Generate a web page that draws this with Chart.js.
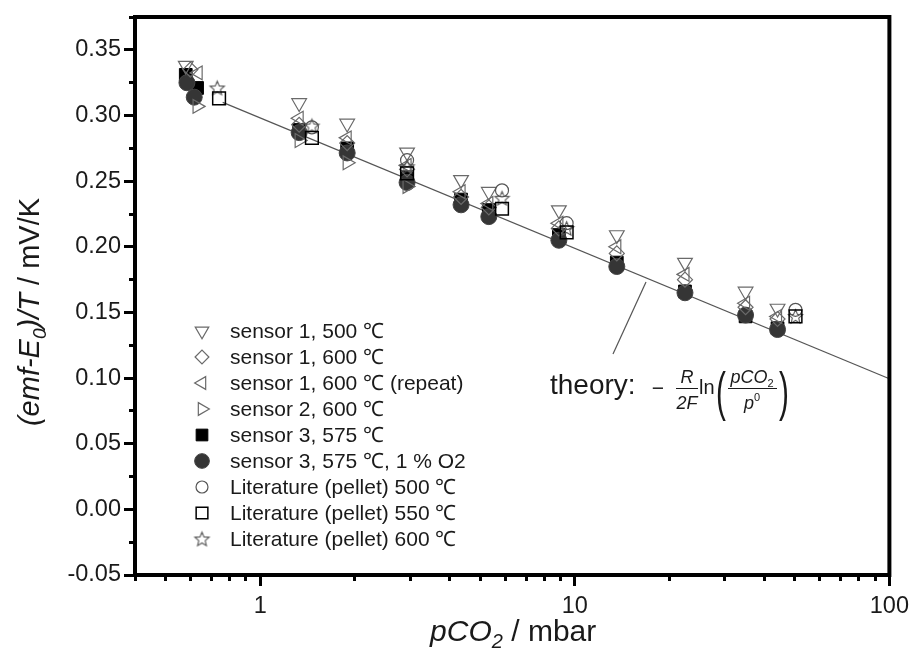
<!DOCTYPE html>
<html><head><meta charset="utf-8">
<script src="https://cdn.jsdelivr.net/npm/chart.js@4/dist/chart.umd.min.js"></script>
<style>html,body{margin:0;padding:0;background:#fff}canvas{display:block}</style>
</head><body>
<canvas id="c" width="915" height="655"></canvas>
<script>
const FONT = '"Liberation Sans", Arial, Helvetica, sans-serif';

// ---- data (pCO2 in mbar, (emf-E0)/T in mV/K) ----
const s1_500_p = [0.58, 1.33, 1.89, 2.93, 4.35, 5.33, 8.9, 13.6, 22.4, 34.9, 44.1];
const s1_500_v = [0.338, 0.3096, 0.294, 0.272, 0.251, 0.242, 0.228, 0.209, 0.188, 0.166, 0.153];
const s1_600_p = [0.60, 1.33, 1.89, 2.93, 4.35, 5.33, 8.9, 13.6, 22.4, 34.9, 44.1];
const s1_600_v = [0.335, 0.293, 0.279, 0.259, 0.238, 0.230, 0.214, 0.195, 0.175, 0.154, 0.145];
const s1_600r_p = [0.635, 1.33, 1.89, 2.93, 4.35, 5.33, 8.9, 13.6, 22.4, 34.9, 44.1];
const s1_600r_v = [0.3325, 0.298, 0.283, 0.262, 0.242, 0.233, 0.218, 0.200, 0.179, 0.157, 0.147];
const s2_600_p = [0.63, 1.33, 1.89, 2.93];
const s2_600_v = [0.307, 0.281, 0.264, 0.246];
const s3_575_p = [0.58, 0.63, 1.33, 1.89, 2.93, 4.35, 5.33, 8.9, 13.6, 22.4, 34.9, 44.1];
const s3_575_v = [0.331, 0.321, 0.289, 0.275, 0.253, 0.236, 0.228, 0.209, 0.188, 0.166, 0.147, 0.138];
const s3_o2_p = [0.585, 0.617, 1.33, 1.89, 2.93, 4.35, 5.33, 8.9, 13.6, 22.4, 34.9, 44.1];
const s3_o2_v = [0.325, 0.314, 0.287, 0.2715, 0.249, 0.232, 0.223, 0.205, 0.185, 0.165, 0.148, 0.137];
const lit500_p = [1.46, 2.93, 5.87, 9.42, 50.3];
const lit500_v = [0.291, 0.266, 0.243, 0.218, 0.152];
const lit550_p = [0.74, 1.46, 2.93, 5.87, 9.42, 50.3];
const lit550_v = [0.313, 0.283, 0.256, 0.229, 0.211, 0.147];
const lit600_p = [0.73, 1.46, 2.93, 5.87, 9.42, 50.3];
const lit600_v = [0.321, 0.292, 0.261, 0.237, 0.214, 0.147];
const theory_p = [0.76, 100];
const theory_v = [0.310, 0.0995];

const seriesLabels = [
  'sensor 1, 500 \u2103', 'sensor 1, 600 \u2103', 'sensor 1, 600 \u2103 (repeat)',
  'sensor 2, 600 \u2103', 'sensor 3, 575 \u2103', 'sensor 3, 575 \u2103, 1 % O2',
  'Literature (pellet) 500 \u2103', 'Literature (pellet) 550 \u2103', 'Literature (pellet) 600 \u2103'
];

const xTickValues = [0.4,0.5,0.6,0.7,0.8,0.9,1,2,3,4,5,6,7,8,9,10,20,30,40,50,60,70,80,90,100];
const xLabelValues = [1, 10, 100];
const yTickValues = [-0.05,-0.025,0,0.025,0.05,0.075,0.1,0.125,0.15,0.175,0.2,0.225,0.25,0.275,0.3,0.325,0.35,0.375];
const yLabelValues = [-0.05,0,0.05,0.1,0.15,0.2,0.25,0.3,0.35];

function pts(xs, ys) { return xs.map((x, i) => ({x: x, y: ys[i]})); }
function isXMajor(v) { return xLabelValues.some(m => Math.abs(m - v) < 1e-9); }
function isYMajor(v) { return yLabelValues.some(m => Math.abs(m - v) < 1e-9); }

function makeStar(r, color) {
  const s = Math.ceil(r * 2 + 4);
  const c = document.createElement('canvas'); c.width = s; c.height = s;
  const g = c.getContext('2d');
  g.strokeStyle = color; g.lineWidth = 1.1; g.beginPath();
  for (let k = 0; k < 10; k++) {
    const rr = k % 2 ? r * 0.45 : r;
    const a = -Math.PI / 2 + k * Math.PI / 5;
    const px = s / 2 + rr * Math.cos(a), py = s / 2 + 0.6 + rr * Math.sin(a);
    if (k) g.lineTo(px, py); else g.moveTo(px, py);
  }
  g.closePath(); g.stroke();
  return c;
}
const starImg = makeStar(7.5, '#555');
const NONE = 'rgba(0,0,0,0)';

function sds(label, data, style, rot, r, border, bg, bw, order) {
  return {label, data, showLine: false, pointStyle: style, pointRotation: rot, rotation: rot,
    pointRadius: r, radius: r, pointBorderColor: border, borderColor: border,
    pointBackgroundColor: bg, backgroundColor: bg, pointBorderWidth: bw, borderWidth: bw, order};
}

const datasets = [
  sds(seriesLabels[0], pts(s1_500_p, s1_500_v), 'triangle', 180, 8.5, '#6a6a6a', NONE, 1.2, 3),
  sds(seriesLabels[1], pts(s1_600_p, s1_600_v), 'rectRot', 0, 7.5, '#6a6a6a', NONE, 1.2, 3),
  sds(seriesLabels[2], pts(s1_600r_p, s1_600r_v), 'triangle', -90, 8, '#6a6a6a', NONE, 1.2, 3),
  sds(seriesLabels[3], pts(s2_600_p, s2_600_v), 'triangle', 90, 8, '#6a6a6a', NONE, 1.2, 3),
  sds(seriesLabels[4], pts(s3_575_p, s3_575_v), 'rect', 0, 9, '#000', '#000', 1, 6),
  sds(seriesLabels[5], pts(s3_o2_p, s3_o2_v), 'circle', 0, 8, '#444', '#353535', 1, 5),
  sds(seriesLabels[6], pts(lit500_p, lit500_v), 'circle', 0, 6.5, '#555', NONE, 1.2, 2),
  sds(seriesLabels[7], pts(lit550_p, lit550_v), 'rect', 0, 9, '#000', NONE, 1.5, 1),
  sds(seriesLabels[8], pts(lit600_p, lit600_v), starImg, 0, 7, '#555', NONE, 1, 1),
  {label: 'theory', data: pts(theory_p, theory_v), showLine: true, pointRadius: 0,
   borderColor: '#555', borderWidth: 1.2, fill: false, order: 20}
];

function fnt(size, italic) { return (italic ? 'italic ' : '') + size + 'px ' + FONT; }

function richWidth(ctx, segs) {
  let w = 0;
  for (const sg of segs) { ctx.font = fnt(sg.s, sg.i); w += ctx.measureText(sg.t).width; }
  return w;
}
function drawRich(ctx, segs, x, y, align) {
  const w = richWidth(ctx, segs);
  let cx = align === 'center' ? x - w / 2 : x;
  ctx.textBaseline = 'alphabetic'; ctx.textAlign = 'left';
  for (const sg of segs) {
    ctx.font = fnt(sg.s, sg.i);
    ctx.fillText(sg.t, cx, y + (sg.dy || 0));
    cx += ctx.measureText(sg.t).width;
  }
}

const decorPlugin = {
  id: 'decor',
  afterDraw(chart) {
    const ctx = chart.ctx;
    const a = chart.chartArea;
    ctx.save();
    ctx.strokeStyle = '#000'; ctx.lineWidth = 4; ctx.lineCap = 'butt';
    ctx.beginPath();
    ctx.moveTo(a.left - 2, a.top); ctx.lineTo(a.right + 2, a.top);
    ctx.moveTo(a.right, a.top); ctx.lineTo(a.right, a.bottom + 2);
    ctx.stroke();

    ctx.fillStyle = '#1a1a1a';
    drawRich(ctx, [{t: 'pCO', i: true, s: 30}, {t: '2', i: true, s: 20, dy: 7}, {t: ' / mbar', i: false, s: 30}],
      (a.left + a.right) / 2 + 1, 641, 'center');
    ctx.save();
    ctx.translate(38.5, 312);
    ctx.rotate(-Math.PI / 2);
    drawRich(ctx, [{t: '(emf-E', i: true, s: 29}, {t: '0', i: true, s: 19, dy: 7}, {t: ')/T', i: true, s: 29}, {t: ' / mV/K', i: false, s: 29}],
      0, 0, 'center');
    ctx.restore();

    const lx = 202, tx = 230, ly0 = 331, dy = 26;
    chart.data.datasets.slice(0, 9).forEach((d, i) => {
      const y = ly0 + i * dy;
      ctx.save();
      ctx.fillStyle = d.backgroundColor; ctx.strokeStyle = d.borderColor; ctx.lineWidth = d.borderWidth;
      Chart.helpers.drawPoint(ctx, {pointStyle: d.pointStyle, rotation: d.rotation, radius: d.radius * 0.92, borderWidth: d.borderWidth}, lx, y);
      ctx.restore();
      ctx.fillStyle = '#1a1a1a'; ctx.font = fnt(21, false);
      ctx.textAlign = 'left'; ctx.textBaseline = 'middle';
      ctx.fillText(d.label, tx, y + 1);
    });

    ctx.strokeStyle = '#555'; ctx.lineWidth = 1.2;
    ctx.beginPath(); ctx.moveTo(646, 282); ctx.lineTo(613, 354); ctx.stroke();
    ctx.fillStyle = '#1a1a1a';
    ctx.font = fnt(28, false); ctx.textAlign = 'left'; ctx.textBaseline = 'alphabetic';
    ctx.fillText('theory:', 550, 394);
    ctx.font = fnt(21, false); ctx.textAlign = 'center';
    ctx.fillText('\u2212', 658, 395);
    ctx.font = fnt(18, true);
    ctx.fillText('R', 687, 383);
    ctx.fillText('2F', 687, 409);
    ctx.strokeStyle = '#1a1a1a'; ctx.lineWidth = 1;
    ctx.beginPath(); ctx.moveTo(676, 388.5); ctx.lineTo(698, 388.5); ctx.stroke();
    ctx.font = fnt(20, false); ctx.textAlign = 'left';
    ctx.fillText('ln', 699, 394);
    ctx.save(); ctx.translate(716, 410); ctx.scale(0.55, 1);
    ctx.font = fnt(54, false); ctx.fillText('(', 0, 0); ctx.restore();
    ctx.save(); ctx.translate(779, 410); ctx.scale(0.55, 1);
    ctx.font = fnt(54, false); ctx.fillText(')', 0, 0); ctx.restore();
    drawRich(ctx, [{t: 'pCO', i: true, s: 18}, {t: '2', i: false, s: 11, dy: 4}], 752, 383, 'center');
    ctx.beginPath(); ctx.moveTo(728, 388.5); ctx.lineTo(777, 388.5); ctx.stroke();
    drawRich(ctx, [{t: 'p', i: true, s: 18}, {t: '0', i: false, s: 11, dy: -8}], 752, 409, 'center');
    ctx.restore();
  }
};

new Chart(document.getElementById('c'), {
  type: 'scatter',
  data: {datasets},
  options: {
    responsive: false, animation: false,
    layout: {padding: {left: 0, right: 24, top: 16, bottom: 0}},
    plugins: {legend: {display: false}, tooltip: {enabled: false}},
    scales: {
      x: {
        type: 'logarithmic', position: 'bottom', min: 0.4, max: 100,
        afterBuildTicks: s => { s.ticks = xTickValues.map(v => ({value: v})); },
        afterFit: s => { s.height = 80; },
        border: {display: true, width: 4, color: '#000'},
        grid: {display: true, drawOnChartArea: false, drawTicks: true, tickLength: 11, tickWidth: 3, tickColor: '#000',
          tickBorderDash: c => (c.tick && isXMajor(c.tick.value)) ? [] : [4, 100]},
        ticks: {autoSkip: false, maxRotation: 0, padding: 6, color: '#1a1a1a', font: {family: FONT, size: 23.5},
          callback: v => isXMajor(v) ? String(v) : ''}
      },
      y: {
        type: 'linear', position: 'left', min: -0.05, max: 0.375,
        afterBuildTicks: s => { s.ticks = yTickValues.map(v => ({value: v})); },
        afterFit: s => { s.width = 135; },
        border: {display: true, width: 4, color: '#000'},
        grid: {display: true, drawOnChartArea: false, drawTicks: true, tickLength: 11, tickWidth: 3, tickColor: '#000',
          tickBorderDash: c => (c.tick && isYMajor(c.tick.value)) ? [] : [0, 5, 4, 100]},
        ticks: {autoSkip: false, padding: 3, color: '#1a1a1a', font: {family: FONT, size: 23.5},
          callback: v => isYMajor(v) ? v.toFixed(2) : ''}
      }
    }
  },
  plugins: [decorPlugin]
});
</script>
</body></html>
